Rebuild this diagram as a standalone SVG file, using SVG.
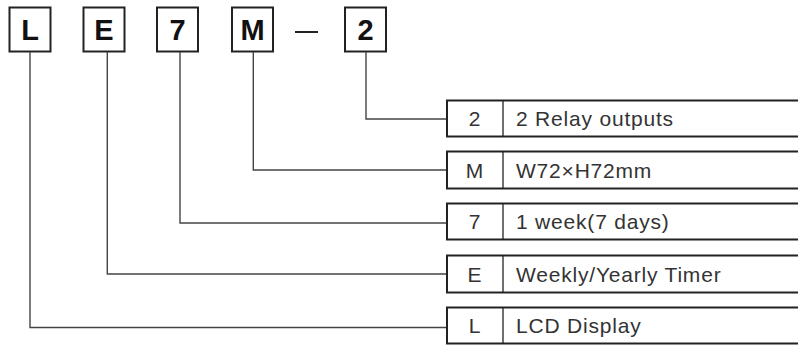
<svg xmlns="http://www.w3.org/2000/svg" width="798" height="346" viewBox="0 0 798 346">
<style>
.code{fill:#fff;stroke:#222;stroke-width:2}
.ct{font-family:"Liberation Sans",Arial,sans-serif;font-weight:bold;font-size:29px;fill:#111;text-anchor:middle}
.opt{fill:#fff;stroke:#222;stroke-width:2}
.div{stroke:#222;stroke-width:1.3}
.ot{font-family:"Liberation Sans",Arial,sans-serif;font-size:21px;fill:#333;letter-spacing:0.8px}
.ol{text-anchor:middle}
.conn{fill:none;stroke:#444;stroke-width:1.4}
</style>
<rect width="798" height="346" fill="#fff"/>
<g id="code-L"><rect class="code" x="9.5" y="7.5" width="41" height="44"/><text class="ct" x="30" y="40">L</text></g>
<g id="code-E"><rect class="code" x="83.5" y="7.5" width="41" height="44"/><text class="ct" x="104" y="40">E</text></g>
<g id="code-7"><rect class="code" x="157" y="7.5" width="41" height="44"/><text class="ct" x="177.5" y="40">7</text></g>
<g id="code-M"><rect class="code" x="232" y="7.5" width="41" height="44"/><text class="ct" x="252.5" y="40">M</text></g>
<g id="dash"><line x1="295" y1="32" x2="318" y2="32" stroke="#222" stroke-width="2"/></g>
<g id="code-2"><rect class="code" x="345" y="7.5" width="41" height="44"/><text class="ct" x="365.5" y="40">2</text></g>

<g id="connectors">
<polyline class="conn" points="366,52 366,119 447,119"/>
<polyline class="conn" points="253.3,52 253.3,170 447,170"/>
<polyline class="conn" points="180,52 180,223 447,223"/>
<polyline class="conn" points="107.3,52 107.3,274 447,274"/>
<polyline class="conn" points="30,52 30,327.5 447,327.5"/>
</g>

<g id="opt-2"><rect class="opt" x="447" y="100.5" width="360" height="36"/><line class="div" x1="503" y1="100.5" x2="503" y2="136.5"/><text class="ot ol" x="475" y="126">2</text><text class="ot" x="516" y="126">2 Relay outputs</text></g>
<g id="opt-M"><rect class="opt" x="447" y="151.5" width="360" height="37"/><line class="div" x1="503" y1="151.5" x2="503" y2="188.5"/><text class="ot ol" x="475" y="177.5">M</text><text class="ot" x="516" y="177.5">W72×H72mm</text></g>
<g id="opt-7"><rect class="opt" x="447" y="203.5" width="360" height="36"/><line class="div" x1="503" y1="203.5" x2="503" y2="239.5"/><text class="ot ol" x="475" y="229">7</text><text class="ot" x="516" y="229">1 week(7 days)</text></g>
<g id="opt-E"><rect class="opt" x="447" y="255.5" width="360" height="37"/><line class="div" x1="503" y1="255.5" x2="503" y2="292.5"/><text class="ot ol" x="475" y="281.5">E</text><text class="ot" x="516" y="281.5">Weekly/Yearly Timer</text></g>
<g id="opt-L"><rect class="opt" x="447" y="307.5" width="360" height="36"/><line class="div" x1="503" y1="307.5" x2="503" y2="343.5"/><text class="ot ol" x="475" y="333">L</text><text class="ot" x="516" y="333">LCD Display</text></g>
</svg>
